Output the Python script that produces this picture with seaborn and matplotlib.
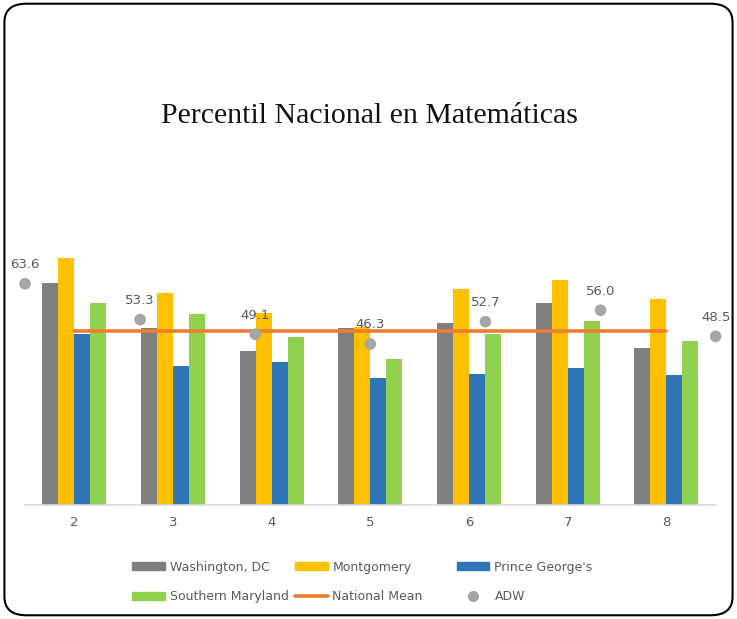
import pandas as pd
import numpy as np
import seaborn as sns
import matplotlib.pyplot as plt
from matplotlib.patches import Patch, FancyBboxPatch
from matplotlib.lines import Line2D

# Values
grades = ["2", "3", "4", "5", "6", "7", "8"]
washington = [63.7, 50.8, 44.3, 50.8, 52.2, 58.1, 45.0]
montgomery = [70.9, 61.0, 55.3, 51.1, 62.0, 64.8, 59.1]
prince_georges = [49.1, 40.0, 41.0, 36.4, 37.6, 39.5, 37.4]
southern_md = [58.0, 54.9, 48.2, 42.1, 49.3, 52.9, 47.1]
national_mean = [50, 50, 50, 50, 50, 50, 50]
adw = [63.6, 53.3, 49.1, 46.3, 52.7, 56.0, 48.5]

series_names = ["Washington, DC", "Montgomery", "Prince George's", "Southern Maryland"]
colors = ["#7f7f7f", "#ffc000", "#2e75b6", "#92d050"]

# long table for seaborn
rows = []
for name, vals in zip(series_names, [washington, montgomery, prince_georges, southern_md]):
    for g, v in zip(grades, vals):
        rows.append({"grade": g, "series": name, "value": v})
df = pd.DataFrame(rows)

sns.set_style("white")
fig = plt.figure(figsize=(7.37, 6.19), dpi=100)
ax = fig.add_axes([0.034, 0.184, 0.937, 0.4273])

sns.barplot(data=df, x="grade", y="value", hue="series", palette=colors,
            width=0.65, saturation=1, linewidth=0, ax=ax, legend=False)

# national mean line across the group centres
mean_df = pd.DataFrame({"pos": np.arange(len(grades)), "mean": national_mean})
sns.lineplot(data=mean_df, x="pos", y="mean", color="#ed7d31", linewidth=2.6, ax=ax)

ax.set_xlim(-0.5, len(grades) - 0.5)
ax.set_ylim(0, 76)
ax.set_xlabel("")
ax.set_ylabel("")
ax.set_yticks([])
for s in ["top", "right", "left"]:
    ax.spines[s].set_visible(False)
ax.spines["bottom"].set_color("#d9d9d9")
ax.spines["bottom"].set_linewidth(1.2)
ax.tick_params(axis="x", length=0, labelsize=9.5, labelcolor="#595959", pad=8)

# ADW on its own category axis (points sit on the ends)
ax2 = ax.twiny()
adw_df = pd.DataFrame({"pos": np.arange(len(grades)), "adw": adw})
sns.scatterplot(data=adw_df, x="pos", y="adw", color="#a5a5a5", s=70,
                edgecolor="none", ax=ax2, zorder=5, clip_on=False)
ax2.set_xlim(0, len(grades) - 1)
ax2.set_ylim(0, 76)
ax2.set_xticks([])
ax2.set_xlabel("")
ax2.set_ylabel("")
ax2.set_yticks([])
for s in ax2.spines.values():
    s.set_visible(False)
for p, v in zip(adw_df["pos"], adw_df["adw"]):
    ax2.annotate(f"{v:.1f}", (p, v), xytext=(0, 9), textcoords="offset points",
                 ha="center", va="bottom", fontsize=9.5, color="#595959")

# title
fig.text(0.502, 0.813, "Percentil Nacional en Matemáticas", ha="center", va="center",
         fontsize=21.5, family="Liberation Serif", color="#111111")

# legend: three fixed-width columns like the original
h = [Patch(color=c) for c in colors]
h_mean = Line2D([], [], color="#ed7d31", linewidth=2.6)
h_adw = Line2D([], [], marker="o", linestyle="none", color="#a5a5a5", markersize=7)
columns = [
    ([h[0], h[3]], [series_names[0], series_names[3]], 132),
    ([h[1], h_mean], [series_names[1], "National Mean"], 295),
    ([h[2], h_adw], [series_names[2], "ADW"], 457),
]
for hs, ls, xpx in columns:
    leg = fig.legend(hs, ls, ncol=1, loc="center left", bbox_to_anchor=(xpx / 737, 0.06),
                     frameon=False, fontsize=9, labelcolor="#595959", handlelength=2.6,
                     handleheight=0.6, handletextpad=0.4, labelspacing=1.3,
                     borderpad=0, borderaxespad=0)

# rounded frame around the whole picture
frame = FancyBboxPatch((0.006, 0.006), 0.988, 0.988, boxstyle="round,pad=0,rounding_size=0.03",
                       transform=fig.transFigure, fill=False, edgecolor="black", linewidth=1.5)
fig.patches.append(frame)

fig.savefig("out.png", dpi=100)
